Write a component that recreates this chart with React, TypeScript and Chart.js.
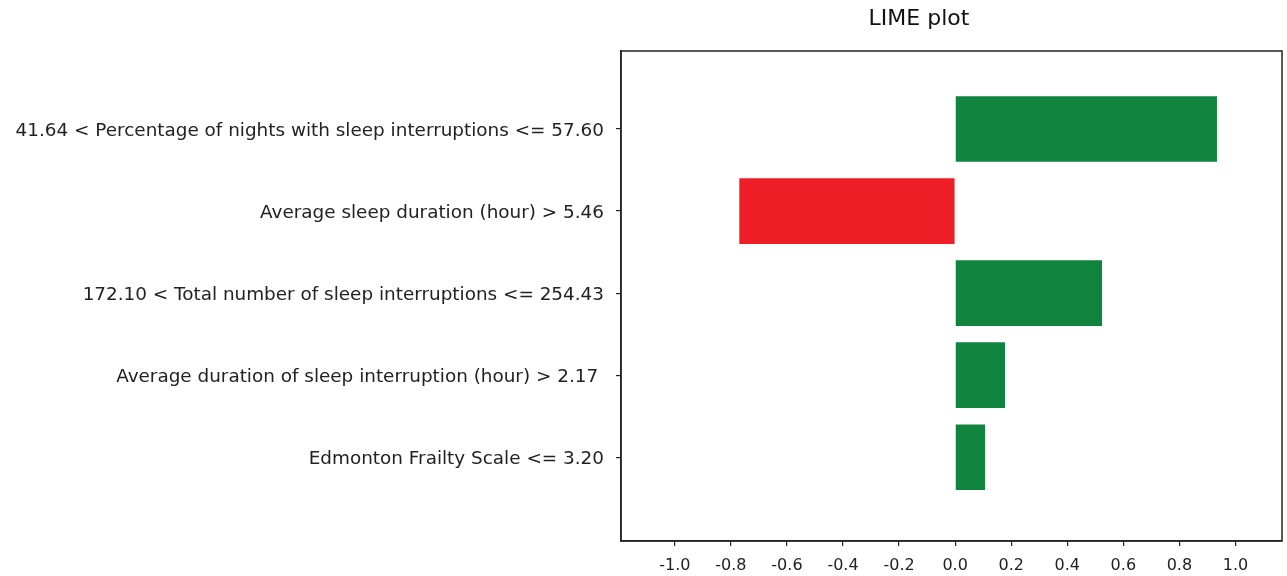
import React, { useEffect, useRef } from "react";
import { Chart, registerables } from "chart.js";

Chart.register(...registerables);

const features: string[] = [
  "41.64 < Percentage of nights with sleep interruptions <= 57.60",
  "Average sleep duration (hour) > 5.46",
  "172.10 < Total number of sleep interruptions <= 254.43",
  "Average duration of sleep interruption (hour) > 2.17 ",
  "Edmonton Frailty Scale <= 3.20",
];
const weights: number[] = [0.934, -0.77, 0.524, 0.178, 0.107];
const xTicks: number[] = [-1.0, -0.8, -0.6, -0.4, -0.2, 0.0, 0.2, 0.4, 0.6, 0.8, 1.0];
const titleText = "LIME plot";
const xMin = -1.192;
const xMax = 1.166;
const yMin = -0.95;
const yMax = 5.02;

const GREEN = "#10843f";
const RED = "#ee1e26";
const INK = "#222222";
const FONT = "'DejaVu Sans', Verdana, sans-serif";

const frame = {
  id: "frame",
  afterDraw(chart: any) {
    const { ctx, chartArea } = chart;
    ctx.save();
    ctx.strokeStyle = INK;
    ctx.lineWidth = 1.5;
    ctx.strokeRect(chartArea.left, chartArea.top, chartArea.right - chartArea.left, chartArea.bottom - chartArea.top);
    ctx.fillStyle = "#111";
    ctx.font = `normal 22px ${FONT}`;
    ctx.textAlign = "center";
    ctx.textBaseline = "middle";
    ctx.fillText(titleText, 919, 19);
    ctx.restore();
  },
};

export default function App() {
  const ref = useRef<HTMLCanvasElement>(null);
  useEffect(() => {
    if (!ref.current) return;
    const chart = new Chart(ref.current, {
      type: "bar",
      data: {
        datasets: [
          {
            data: weights.map((v, i) => ({ x: v, y: i })) as any,
            backgroundColor: weights.map((v) => (v >= 0 ? GREEN : RED)),
            barPercentage: 0.8,
            categoryPercentage: 1,
          },
        ],
      },
      options: {
        indexAxis: "y",
        animation: false,
        responsive: false,
        layout: { padding: { left: 0, right: 5, top: 51, bottom: 0 } },
        plugins: {
          legend: { display: false },
          tooltip: { enabled: false },
          title: { display: false },
        },
        scales: {
          x: {
            type: "linear",
            min: xMin,
            max: xMax,
            afterBuildTicks: (scale: any) => {
              scale.ticks = xTicks.map((v) => ({ value: v }));
            },
            afterFit: (scale: any) => {
              scale.height = 35;
            },
            ticks: {
              color: INK,
              font: { family: FONT, size: 16 },
              padding: 10,
              callback: (v: any) => Number(v).toFixed(1),
              maxRotation: 0,
              autoSkip: false,
            },
            grid: { offset: false, drawOnChartArea: false, drawTicks: true, tickLength: 5, color: INK, lineWidth: 1.2 },
            border: { display: true, color: INK, width: 1.5 },
          },
          y: {
            type: "linear",
            reverse: true,
            min: yMin,
            max: yMax,
            offset: false,
            afterBuildTicks: (scale: any) => {
              scale.ticks = features.map((_, i) => ({ value: i }));
            },
            afterFit: (scale: any) => {
              scale.width = 621;
            },
            ticks: {
              color: INK,
              font: { family: FONT, size: 18.4 },
              padding: 12,
              labelOffset: 2,
              autoSkip: false,
              callback: (v: any) => features[Number(v)] ?? "",
            },
            grid: {
              offset: false,
              drawOnChartArea: false,
              drawTicks: true,
              tickLength: 5,
              lineWidth: 1.2,
              color: INK,
            },
            border: { display: true, color: INK, width: 1.5 },
          },
        },
      },
      plugins: [frame],
    });
    return () => chart.destroy();
  }, []);
  return (
    <div style={{ position: "fixed", left: 0, top: 0, width: 1287, height: 576, background: "#fff" }}>
      <canvas ref={ref} width={1287} height={576} style={{ width: 1287, height: 576, display: "block" }} />
    </div>
  );
}
